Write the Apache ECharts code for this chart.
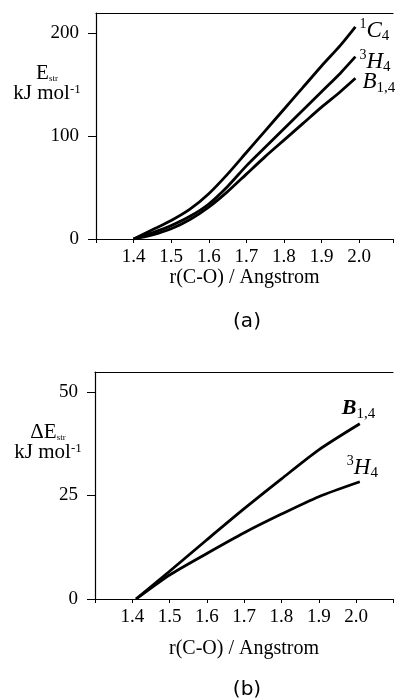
<!DOCTYPE html>
<html>
<head>
<meta charset="utf-8">
<script src="https://cdn.jsdelivr.net/npm/echarts@6/dist/echarts.min.js"></script>
<style>html,body{margin:0;padding:0;background:#fff;}#c{width:396px;height:700px;}</style>
</head>
<body>
<div id="c"></div>
<script>
// Panel (a): strain energy vs r(C-O)
var xA = [1.40, 1.45, 1.50, 1.55, 1.60, 1.65, 1.70, 1.75, 1.80, 1.85, 1.90, 1.95, 1.99];
var c4A = [0, 9, 18, 29, 44, 63, 84, 105, 126, 147, 168, 188, 206];
var h4A = [0, 6, 13, 22, 34, 51, 71, 89, 107, 125, 143, 161, 177];
var b14A = [0, 4, 10, 19, 31, 46, 63, 80, 96, 112, 128, 143, 156];
// Panel (b): difference strain energy
var xB = [1.41, 1.50, 1.60, 1.70, 1.80, 1.90, 2.01];
var b14B = [0, 6.7, 14.3, 21.8, 29, 36, 42.3];
var h4B = [0, 5.8, 11, 16, 20.5, 24.7, 28.3];
var yTicksA = [0, 100, 200];
var yTicksB = [0, 25, 50];
var xTitle = 'r(C-O) / Angstrom';

function pairs(xs, ys) { return xs.map(function (x, i) { return [x, ys[i]]; }); }

var serif = 'Liberation Serif';
var rich = {
  it: { fontFamily: serif, fontStyle: 'italic', fontSize: 23, lineHeight: 26, color: '#000' },
  itb: { fontFamily: serif, fontStyle: 'italic', fontWeight: 'bold', fontSize: 22, lineHeight: 26, color: '#000' },
  sup: { fontFamily: serif, fontSize: 14, lineHeight: 14, verticalAlign: 'top', color: '#000' },
  sub: { fontFamily: serif, fontSize: 15, lineHeight: 15, verticalAlign: 'bottom', color: '#000' }
};

function lineSeries(data, xi, yi, label, off) {
  return {
    type: 'line', xAxisIndex: xi, yAxisIndex: yi, data: data,
    smooth: 0.25, showSymbol: false, symbol: 'none',
    lineStyle: { color: '#000', width: 2.8 },
    endLabel: { show: true, formatter: label, rich: rich, offset: off, distance: 4 },
    animation: false
  };
}

var xLab = {
  fontFamily: serif, fontSize: 19, color: '#000', margin: 9,
  formatter: function (v) { return (v > 1.35 && v < 2.05) ? Number(v).toFixed(1) : ''; }
};
function yLab(ticks) {
  return { fontFamily: serif, fontSize: 19, color: '#000', margin: 17, showMaxLabel: false,
    formatter: function (v) { return ticks.indexOf(v) >= 0 ? String(v) : ''; } };
}
var axLine = { show: true, lineStyle: { color: '#000', width: 1.2 } };

function bottomX(gi, max, gap) {
  return {
    gridIndex: gi, type: 'value', min: 1.3, max: max, interval: 0.1, position: 'bottom',
    axisLine: axLine, axisTick: { show: true, length: 4, lineStyle: { color: '#000' } },
    axisLabel: xLab, splitLine: { show: false },
    name: xTitle, nameLocation: 'middle', nameGap: gap,
    nameTextStyle: { fontFamily: serif, fontSize: 20, color: '#000' }
  };
}
function topX(gi, max) {
  return {
    gridIndex: gi, type: 'value', min: 1.3, max: max, position: 'top',
    axisLine: axLine, axisTick: { show: false }, axisLabel: { show: false }, splitLine: { show: false }
  };
}
function leftY(gi, ticks, max) {
  return { gridIndex: gi, type: 'value', min: ticks[0], max: max, interval: ticks[1] - ticks[0],
    axisLine: axLine, axisTick: { show: true, length: 8, lineStyle: { color: '#000' } },
    axisLabel: yLab(ticks), splitLine: { show: false } };
}

var nameRich = {
  b: { fontFamily: serif, fontSize: 21, lineHeight: 20, color: '#000' },
  s: { fontFamily: serif, fontSize: 9, lineHeight: 9, verticalAlign: 'bottom', color: '#000' },
  p: { fontFamily: serif, fontSize: 13, lineHeight: 20, verticalAlign: 'top', color: '#000' }
};

var option = {
  backgroundColor: '#fff',
  animation: false,
  grid: [
    { left: 96, top: 13, width: 300, height: 226 },
    { left: 95, top: 372, width: 301, height: 227 }
  ],
  xAxis: [bottomX(0, 2.09, 21), topX(0, 2.09), bottomX(1, 2.099, 40), topX(1, 2.099)],
  yAxis: [leftY(0, yTicksA, 219.4), leftY(1, yTicksB, 54.8)],
  series: [
    lineSeries(pairs(xA, c4A), 0, 0, '{sup|1}{it|C}{sub|4}', [0, 4]),
    lineSeries(pairs(xA, h4A), 0, 0, '{sup|3}{it|H}{sub|4}', [0, 5]),
    lineSeries(pairs(xA, b14A), 0, 0, '{it|B}{sub|1,4}', [3, 4]),
    lineSeries(pairs(xB, b14B), 2, 1, '{itb|B}{sub|1,4}', [-22, -15]),
    lineSeries(pairs(xB, h4B), 2, 1, '{sup|3}{it|H}{sub|4}', [-17, -14])
  ],
  graphic: [
    { type: 'text', x: 47, y: 83, style: {
        text: '{b|E}{s|str}\n{b|kJ mol}{p|-1}', align: 'center', verticalAlign: 'middle', rich: nameRich } },
    { type: 'text', x: 48, y: 442, style: {
        text: '{b|ΔE}{s|str}\n{b|kJ mol}{p|-1}', align: 'center', verticalAlign: 'middle', rich: nameRich } },
    { type: 'text', x: 247, y: 322, style: { text: '(a)', fontFamily: 'DejaVu Sans', fontSize: 20,
        fill: '#000', align: 'center', verticalAlign: 'middle' } },
    { type: 'text', x: 247, y: 690, style: { text: '(b)', fontFamily: 'DejaVu Sans', fontSize: 20,
        fill: '#000', align: 'center', verticalAlign: 'middle' } }
  ]
};

var chart = echarts.init(document.getElementById('c'), null, { renderer: 'canvas' });
chart.setOption(option);
</script>
</body>
</html>
